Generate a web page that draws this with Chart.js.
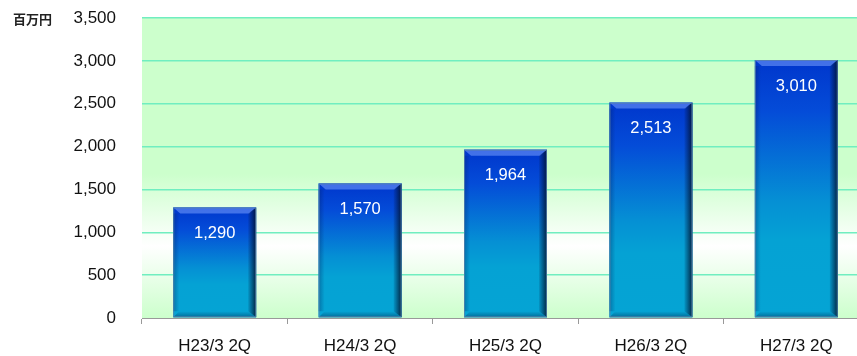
<!DOCTYPE html>
<html>
<head>
<meta charset="utf-8">
<script src="https://cdn.jsdelivr.net/npm/chart.js@4"></script>
<style>
  html, body { margin: 0; padding: 0; background: #fff; overflow: hidden; }
  #wrap { width: 870px; height: 356px; }
</style>
</head>
<body>
<div id="wrap"><canvas id="salesChart" width="870" height="356"></canvas></div>
<script>
const categories = ['H23/3 2Q', 'H24/3 2Q', 'H25/3 2Q', 'H26/3 2Q', 'H27/3 2Q'];
const sales = [1290, 1570, 1964, 2513, 3010];
const unitLabel = '百万円';

const fontFamily = '"Liberation Sans", Arial, sans-serif';

// green/white plot background, beveled blue bars and value labels
const decorate = {
    id: 'decorate',
    beforeDraw(chart) {
        const { ctx, chartArea: a } = chart;
        const g = ctx.createLinearGradient(0, a.top, 0, a.bottom);
        g.addColorStop(0, '#ccffcc');
        g.addColorStop(0.52, '#ccffcc');
        g.addColorStop(0.76, '#ffffff');
        g.addColorStop(1, '#ccffcc');
        ctx.save();
        ctx.fillStyle = g;
        ctx.fillRect(a.left, a.top, a.right - a.left, a.bottom - a.top);
        ctx.restore();
    },
    afterDatasetsDraw(chart) {
        const { ctx } = chart;
        const meta = chart.getDatasetMeta(0);
        ctx.save();
        meta.data.forEach((bar, i) => {
            const left = bar.x - bar.width / 2;
            const right = bar.x + bar.width / 2;
            const top = bar.y;
            const bottom = bar.base;
            const h = bottom - top;
            const w = right - left;

            const g = ctx.createLinearGradient(0, top, 0, bottom);
            g.addColorStop(0, '#0036cc');
            g.addColorStop(0.2, '#044cd8');
            g.addColorStop(0.55, '#0590d4');
            g.addColorStop(0.7, '#05a2d4');
            g.addColorStop(1, '#05a4d4');
            ctx.fillStyle = g;
            ctx.fillRect(left, top, w, h);

            // top bevel
            ctx.fillStyle = 'rgba(120,160,255,0.55)';
            ctx.beginPath();
            ctx.moveTo(left, top);
            ctx.lineTo(right, top);
            ctx.lineTo(right - 7, top + 6);
            ctx.lineTo(left + 7, top + 6);
            ctx.closePath();
            ctx.fill();

            // right shadow edge
            const rg = ctx.createLinearGradient(right - 9, 0, right, 0);
            rg.addColorStop(0, 'rgba(0,20,60,0)');
            rg.addColorStop(1, 'rgba(0,15,40,0.85)');
            ctx.fillStyle = rg;
            ctx.beginPath();
            ctx.moveTo(right, top);
            ctx.lineTo(right, bottom);
            ctx.lineTo(right - 8, bottom - 6);
            ctx.lineTo(right - 8, top + 6);
            ctx.closePath();
            ctx.fill();

            // left soft edge
            const lg = ctx.createLinearGradient(left, 0, left + 6, 0);
            lg.addColorStop(0, 'rgba(0,30,90,0.35)');
            lg.addColorStop(1, 'rgba(0,30,90,0)');
            ctx.fillStyle = lg;
            ctx.fillRect(left, top + 6, 6, h - 12);

            // bottom shade
            const bg = ctx.createLinearGradient(0, bottom - 6, 0, bottom);
            bg.addColorStop(0, 'rgba(0,40,80,0)');
            bg.addColorStop(1, 'rgba(0,40,80,0.45)');
            ctx.fillStyle = bg;
            ctx.beginPath();
            ctx.moveTo(left, bottom);
            ctx.lineTo(right, bottom);
            ctx.lineTo(right - 8, bottom - 6);
            ctx.lineTo(left + 6, bottom - 6);
            ctx.closePath();
            ctx.fill();

            ctx.strokeStyle = 'rgba(90,130,170,0.8)';
            ctx.lineWidth = 1;
            ctx.strokeRect(left + 0.5, top + 0.5, w - 1, h - 1);

            // value label
            ctx.fillStyle = '#ffffff';
            ctx.font = '16.5px ' + fontFamily;
            ctx.textAlign = 'center';
            ctx.textBaseline = 'middle';
            ctx.fillText(sales[i].toLocaleString('en-US'), bar.x, top + 26);
        });

        // unit label
        ctx.fillStyle = '#222';
        ctx.font = 'bold 13px "Noto Sans CJK JP", sans-serif';
        ctx.textAlign = 'left';
        ctx.textBaseline = 'middle';
        ctx.fillText(unitLabel, 13, 19);
        ctx.restore();
    }
};

const ctx = document.getElementById('salesChart').getContext('2d');
const salesChart = new Chart(ctx, {
    type: 'bar',
    data: {
        labels: categories,
        datasets: [{
            label: unitLabel,
            data: sales,
            backgroundColor: '#0590d4',
            borderWidth: 0,
            categoryPercentage: 1,
            barPercentage: 0.57
        }]
    },
    options: {
        responsive: false,
        animation: false,
        layout: { padding: { top: 18, right: 1, left: 0, bottom: 0 } },
        plugins: {
            legend: { display: false },
            tooltip: { enabled: false }
        },
        scales: {
            x: {
                offset: true,
                grid: {
                    offset: true,
                    drawOnChartArea: false,
                    color: '#999',
                    tickLength: 6
                },
                border: { color: '#999', width: 1 },
                ticks: {
                    color: '#111',
                    font: { family: fontFamily, size: 17 },
                    padding: 12,
                    maxRotation: 0
                },
                afterFit(scale) { scale.height = 38; }
            },
            y: {
                min: 0,
                max: 3500,
                ticks: {
                    stepSize: 500,
                    color: '#111',
                    font: { family: fontFamily, size: 17 },
                    padding: 0,
                    callback: v => v.toLocaleString('en-US')
                },
                grid: {
                    color: ctx => ctx.tick.value === 0 ? 'rgba(0,0,0,0)' : '#70eec0',
                    lineWidth: 1.5,
                    tickLength: 26,
                    tickColor: 'rgba(0,0,0,0)'
                },
                border: { display: false },
                afterFit(scale) { scale.width = 142; }
            }
        }
    },
    plugins: [decorate]
});
</script>
</body>
</html>
